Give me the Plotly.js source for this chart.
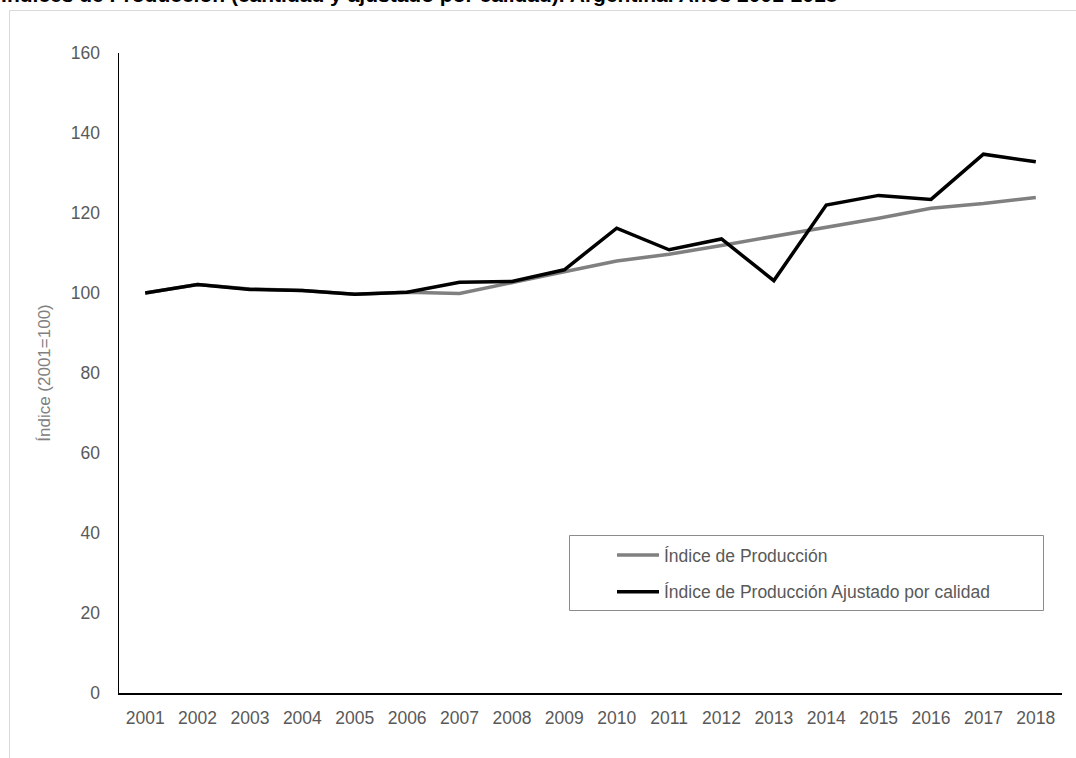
<!DOCTYPE html>
<html>
<head>
<meta charset="utf-8">
<script src="https://cdn.plot.ly/plotly-3.0.1.min.js"></script>
<style>
  html, body { margin: 0; padding: 0; background: #ffffff; }
  #chart { width: 1076px; height: 758px; }
</style>
</head>
<body>
<div id="chart"></div>
<script>
// ---- data ----
const years = ["2001","2002","2003","2004","2005","2006","2007","2008","2009",
               "2010","2011","2012","2013","2014","2015","2016","2017","2018"];
const indiceProduccion = [100, 102.1, 101, 100.6, 99.7, 100.2, 99.9, 102.5, 105.3,
                          108, 109.7, 111.9, 114.1, 116.3, 118.7, 121.2, 122.4, 123.9];
const indiceAjustado = [100, 102.1, 100.9, 100.6, 99.7, 100.2, 102.7, 102.9, 105.8,
                        116.2, 110.8, 113.5, 103.1, 122, 124.4, 123.4, 134.7, 132.8];
const seriesNames = ["Índice de Producción", "Índice de Producción Ajustado por calidad"];
const chartTitle = "Índices de Producción (cantidad y ajustado por calidad). Argentina. Años 2001-2018";
const yTitle = "Índice (2001=100)";
const yTicks = [0, 20, 40, 60, 80, 100, 120, 140, 160];

const W = 1076, H = 758;
const M = {l: 119, r: 14, t: 53, b: 65};
const PW = W - M.l - M.r, PH = H - M.t - M.b;
const px = x => (x - M.l) / PW;           // pixel -> paper x
const py = y => (H - M.b - y) / PH;       // pixel -> paper y

const traces = [
  {
    x: years, y: indiceProduccion, type: "scatter", mode: "lines",
    name: seriesNames[0], legendgroup: "g1",
    line: {color: "#808080", width: 3.5}
  },
  {
    x: years, y: indiceAjustado, type: "scatter", mode: "lines",
    name: seriesNames[1], legendgroup: "g2",
    line: {color: "#000000", width: 3.5}
  }
];

const tickFont = {family: "Liberation Sans, Arial, sans-serif", size: 17.5, color: "#595959"};

const layout = {
  width: W, height: H,
  margin: M,
  paper_bgcolor: "#ffffff",
  plot_bgcolor: "#ffffff",
  showlegend: true,
  title: {
    text: chartTitle,
    xref: "container", yref: "container",
    x: 0.001, xanchor: "left",
    y: 1 - 1.8 / H, yanchor: "bottom",
    font: {family: "Liberation Sans, Arial, sans-serif", size: 21, color: "#000000", weight: "bold"}
  },
  xaxis: {
    type: "category",
    range: [-0.5, years.length - 0.5],
    showgrid: false, zeroline: false,
    showline: true, linecolor: "#000000", linewidth: 1.5,
    ticks: "", ticklabelstandoff: 8,
    tickfont: tickFont,
    fixedrange: true
  },
  yaxis: {
    range: [0, 160],
    tickvals: yTicks,
    showgrid: false, zeroline: false,
    showline: true, linecolor: "#000000", linewidth: 1.5,
    ticks: "", ticklabelstandoff: 14,
    tickfont: tickFont,
    automargin: true,
    title: {
      text: yTitle,
      standoff: 16,
      font: {family: "Liberation Sans, Arial, sans-serif", size: 17, color: "#808080"}
    },
    fixedrange: true
  },
  legend: {
    x: px(612), y: py(537), xanchor: "left", yanchor: "top",
    bgcolor: "rgba(0,0,0,0)", borderwidth: 0,
    font: {family: "Liberation Sans, Arial, sans-serif", size: 17.5, color: "#595959"},
    itemwidth: 42,
    tracegroupgap: 11
  },
  shapes: [
    {
      type: "rect", xref: "paper", yref: "paper",
      x0: px(9.5), x1: px(1090), y0: py(780), y1: py(10.5),
      line: {color: "#d9d9d9", width: 1}, fillcolor: "rgba(0,0,0,0)", layer: "below"
    },
    {
      type: "rect", xref: "paper", yref: "paper",
      x0: px(569.5), x1: px(1043.5), y0: py(610.5), y1: py(535.5),
      line: {color: "#8c8c8c", width: 1}, fillcolor: "#ffffff", layer: "above"
    }
  ]
};

Plotly.newPlot("chart", traces, layout, {displayModeBar: false, staticPlot: true});
</script>
</body>
</html>
